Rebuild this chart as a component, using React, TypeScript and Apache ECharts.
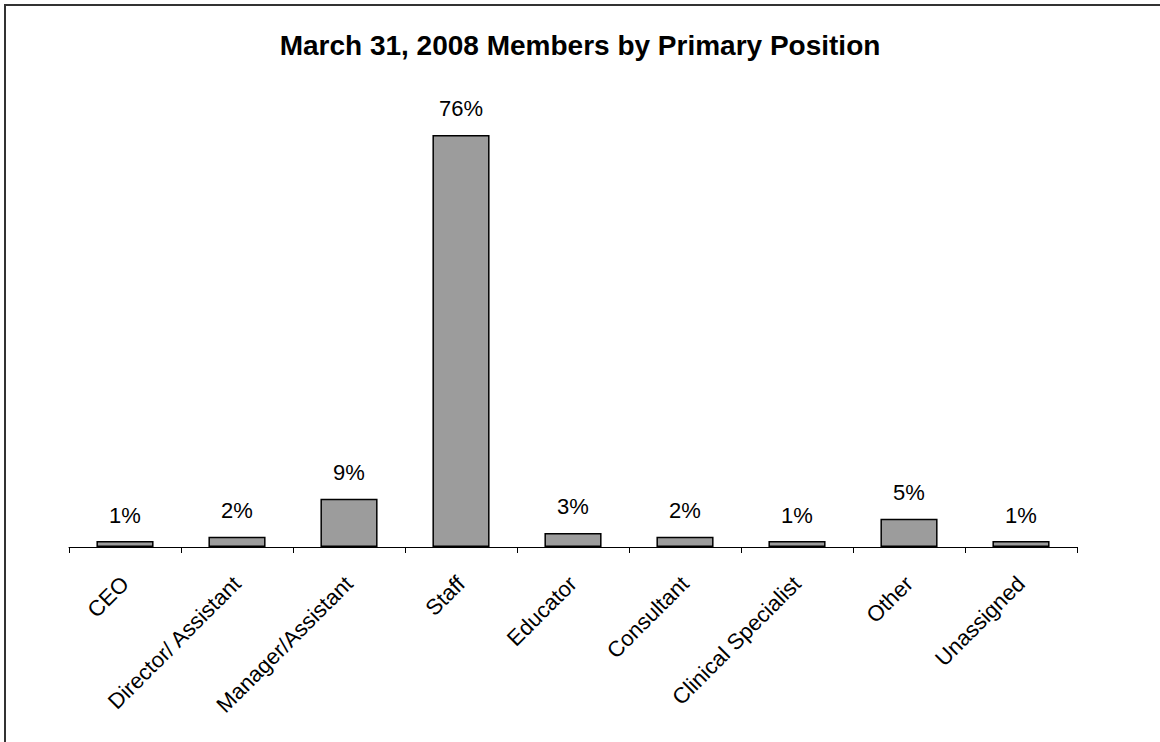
import React, { useEffect, useRef } from "react";
import * as echarts from "echarts";

const categories = [
  "CEO",
  "Director/ Assistant",
  "Manager/Assistant",
  "Staff",
  "Educator",
  "Consultant",
  "Clinical Specialist",
  "Other",
  "Unassigned",
];
const values = [1.1, 1.9, 8.9, 76, 2.6, 1.9, 1.1, 5.2, 1.1];
const titleText = "March 31, 2008 Members by Primary Position";

export default function App() {
  const ref = useRef<HTMLDivElement>(null);
  useEffect(() => {
    const chart = echarts.init(ref.current!, null, { renderer: "svg" });
    chart.setOption({
      animation: false,
      backgroundColor: "#ffffff",
      textStyle: { fontFamily: "Liberation Sans, Arial, sans-serif" },
      title: {
        text: titleText,
        left: "center",
        top: 26,
        textStyle: {
          fontFamily: "Liberation Sans, Arial, sans-serif",
          fontSize: 28,
          fontWeight: "bold",
          color: "#000",
        },
      },
      graphic: [
        {
          type: "rect",
          shape: { x: 5, y: 5, width: 1300, height: 900 },
          style: { fill: "none", stroke: "#333", lineWidth: 2 },
          silent: true,
        },
      ],
      grid: { left: 69, right: 83, top: 113.3, bottom: 195, containLabel: false },
      xAxis: {
        type: "category",
        data: categories,
        axisLine: { lineStyle: { color: "#000", width: 1 } },
        axisTick: { show: true, length: 6, lineStyle: { color: "#000" } },
        axisLabel: {
          rotate: 45,
          interval: 0,
          margin: 33,
          color: "#000",
          fontSize: 22,
          fontFamily: "Liberation Sans, Arial, sans-serif",
        },
      },
      yAxis: {
        type: "value",
        min: 0,
        max: 80,
        show: false,
        splitLine: { show: false },
      },
      series: [
        {
          type: "bar",
          data: values,
          barWidth: "51%",
          itemStyle: { color: "#9c9c9c", borderColor: "#000", borderWidth: 1.5 },
          label: {
            show: true,
            position: "top",
            distance: 15,
            color: "#000",
            fontSize: 22,
            fontFamily: "Liberation Sans, Arial, sans-serif",
            formatter: (p: any) => Math.round(p.value) + "%",
          },
        },
      ],
    });
    return () => chart.dispose();
  }, []);
  return (
    <div
      ref={ref}
      style={{ position: "fixed", left: 0, top: 0, width: 1160, height: 742 }}
    />
  );
}
